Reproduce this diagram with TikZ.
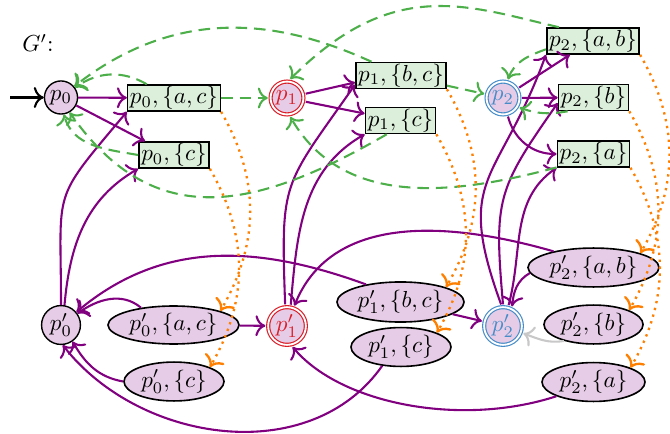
\documentclass[tikz,border=0pt]{standalone}
\usetikzlibrary{shapes.geometric,arrows.meta}
\definecolor{purp}{RGB}{128,0,128}
\definecolor{gcol}{RGB}{77,175,74}
\definecolor{ocol}{RGB}{255,127,0}
\definecolor{cred}{RGB}{218,30,40}
\definecolor{cblue}{RGB}{70,140,200}
\definecolor{lgray}{RGB}{200,200,200}
\colorlet{nfill}{purp!20}
\colorlet{gfill}{gcol!20}
\tikzset{
  st/.style={circle, draw=black, line width=0.6pt, fill=nfill, inner sep=0.5pt},
  dbl/.style={circle, draw=#1, text=#1, double=white, line width=0.5pt, double distance=0.8pt, fill=nfill, inner sep=0.3pt, outer sep=1.2pt},
  bx/.style={rectangle, draw=black, line width=0.7pt, fill=gfill, inner xsep=1pt, inner ysep=0.6pt},
  el/.style={ellipse, draw=black, line width=0.7pt, fill=nfill, inner sep=0.5pt, minimum height=16.8pt},
  pe/.style={draw=purp, line width=0.9pt, ->},
  ge/.style={draw=gcol, line width=0.9pt, dash pattern=on 5pt off 3pt, ->},
  oe/.style={draw=ocol, line width=1pt, dotted, ->},
}
\begin{document}
\begin{tikzpicture}[x=0.432pt, y=0.432pt, >={To[scale=1.2]}]
\useasboundingbox (0,0) rectangle (670,433);
% top row
\node (G) at (38,390) {$G'$:};
\node[st, minimum size=14.3pt] (p0) at (61,335.5) {$p_0$};
\node[bx] (p0ac) at (174,335) {$p_0,\{a,c\}$};
\node[bx] (p0c) at (174,278) {$p_0,\{c\}$};
\node[dbl=cred, minimum size=14.2pt] (p1) at (287,335) {$p_1$};
\node[bx] (p1bc) at (401,357.5) {$p_1,\{b,c\}$};
\node[bx] (p1c) at (400.5,312.5) {$p_1,\{c\}$};
\node[dbl=cblue, minimum size=14.2pt] (p2) at (503,335) {$p_2$};
\node[bx] (p2ab) at (593,392) {$p_2,\{a,b\}$};
\node[bx] (p2b) at (593.5,335.5) {$p_2,\{b\}$};
\node[bx] (p2a) at (593.5,279) {$p_2,\{a\}$};
% bottom row
\node[st, minimum size=16.8pt] (q0) at (61,108) {$p'_0$};
\node[el, minimum width=56.6pt, minimum height=16.4pt] (q0ac) at (173.5,108) {$p'_0,\{a,c\}$};
\node[el, minimum width=43.2pt] (q0c) at (174,51.5) {$p'_0,\{c\}$};
\node[dbl=cred, minimum size=16.3pt] (q1) at (287,107) {$p'_1$};
\node[el, minimum width=54.9pt, minimum height=17.3pt] (q1bc) at (400.5,131) {$p'_1,\{b,c\}$};
\node[el, minimum width=43.2pt] (q1c) at (401,86) {$p'_1,\{c\}$};
\node[dbl=cblue, minimum size=16.3pt] (q2) at (503,107) {$p'_2$};
\node[el, minimum width=56.6pt] (q2ab) at (593.5,165.5) {$p'_2,\{a,b\}$};
\node[el, minimum width=42.8pt] (q2b) at (593.5,108.5) {$p'_2,\{b\}$};
\node[el, minimum width=44.5pt] (q2a) at (593.5,51) {$p'_2,\{a\}$};
% initial arrow
\coordinate (init) at (10,335.5);
\draw[line width=0.9pt, ->] (init) -- (p0);
% purple, top
\draw[pe] (p0) -- (p0ac);
\draw[pe] (p0) -- ([xshift=3pt]p0c.north west);
\draw[pe] (p1) -- ([yshift=-3pt]p1bc.west);
\draw[pe] (p1) -- ([yshift=3pt]p1c.west);
\draw[pe] (p2) -- ([xshift=-10pt]p2ab.south);
\draw[pe] (p2) -- (p2b);
\draw[pe] (p2) to[out=-75,in=180] (p2a.west);
% purple, upward
\draw[pe] (q0) to[out=90,in=-130,looseness=1.5] (p0ac.south west);
\draw[pe] (q0.80) to[out=85,in=-150] (p0c.south west);
\draw[pe] (q1.95) to[out=92,in=-125,looseness=1.4] ([yshift=2pt]p1bc.south west);
\draw[pe] (q1.80) to[out=85,in=-150] (p1c.south west);
\draw[pe] (q2.95) to[out=110,in=-110,looseness=1.4] (p2ab.south west);
\draw[pe] (q2.90) to[out=95,in=-125,looseness=1.3] ([yshift=-2.4pt]p2b.west);
\draw[pe] (q2.75) to[out=75,in=-145] (p2a.south west);
% purple, bottom
\draw[pe] (q0ac.152) to[out=140,in=35] (q0.35);
\draw[pe] (q0c.west) to[out=170,in=-60] (q0.-55);
\draw[pe] (q1c.225) to[out=-125,in=-52] (q0.-85);
\draw[pe] (q1bc.153) to[out=160,in=40] (q0.40);
\draw[pe] (q1bc) -- (q2);
\draw[pe] (q0ac) -- (q1);
\draw[pe] (q2ab.158) to[out=164,in=68,out looseness=1.15,in looseness=0.92] (q1.70);
\draw[pe] (q2a.201) to[out=198,in=-50,out looseness=0.96,in looseness=0.71] (q1.-75);
\draw[pe] (q2ab.185) to[out=210,in=85] (q2.65);
\draw[draw=lgray, line width=0.9pt, ->] (q2b.209) to[out=190,in=-20] (q2.-20);
% green dashed
\draw[ge] (p0ac) -- (p1);
\draw[ge] (p1bc) -- (p2);
\draw[ge] ([xshift=8.6pt]p0ac.north west) to[out=150,in=35] (p0.35);
\draw[ge] (p0c.west) to[out=170,in=-75] (p0.-80);
\draw[ge] (p1c.-135) to[out=-150,in=-55,looseness=1.2] (p0.-60);
\draw[ge] (p1bc.155) to[out=155.7,in=38,out looseness=0.67,in looseness=1.27] (p0.40);
\draw[ge] (p2ab.158.5) to[out=167,in=45,out looseness=0.87,in looseness=1.37] (p1.80);
\draw[ge] (p2ab.190) to[out=200,in=70] (p2.75);
\draw[ge] (p2b.208) to[out=190,in=-20] (p2.-30);
\draw[ge] (p2a.200) to[out=-165,in=-60] (p1.-80);
% orange dotted
\foreach \s/\t in {p0ac/q0ac, p0c/q0c, p1bc/q1bc, p1c/q1c, p2ab/q2ab, p2b/q2b, p2a/q2a}
  \draw[oe] (\s.south east) to[out=-60,in=60] (\t.north east);
\end{tikzpicture}
\end{document}
